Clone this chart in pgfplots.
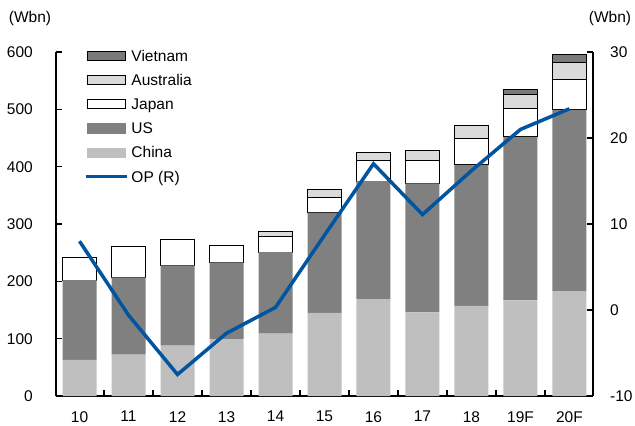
\documentclass[border=0pt]{standalone}
\usepackage{fontspec}
\setmainfont{Liberation Sans}
\usepackage{pgfplots}
\pgfplotsset{compat=1.18}
\definecolor{chinac}{RGB}{191,191,191}
\definecolor{usc}{RGB}{128,128,128}
\definecolor{ausc}{RGB}{218,218,218}
\definecolor{vnc}{RGB}{122,122,122}
\definecolor{opblue}{RGB}{0,84,160}
\pgfplotsset{
  base/.style={
    scale only axis, width=537pt, height=344pt,
    xmin=-0.48, xmax=10.48,
    axis line style={line width=1.8pt},
    tick style={black, line width=1.2pt},
    tick align=inside,
    major tick length=6pt, minor tick length=6pt,
    /pgf/number format/assume math mode=true,
  }
}
\begin{document}
\begin{tikzpicture}[font=\fontsize{15.5}{18}\selectfont]
\useasboundingbox (-56pt,-30pt) rectangle (579pt,396pt);
\begin{axis}[base,
  ymin=0, ymax=600, ytick={0,100,...,600},
  axis x line*=bottom, axis y line*=left,
  ybar stacked, bar width=34pt,
  xtick={0.5,1.5,...,9.5}, xticklabels={},
  extra x ticks={0,1,2,3,4,5,6,7,8,9,10},
  extra x tick labels={10,11,12,13,14,15,16,17,18,19F,20F},
  extra x tick style={major tick length=0pt},
  xticklabel style={anchor=north, inner sep=0pt, yshift=-15pt},
  yticklabel style={anchor=east, inner sep=0pt, xshift=-23pt},
]
\addplot[fill=chinac, draw=none] coordinates {(0,63) (1,72) (2,88) (3,99) (4,109) (5,145) (6,169) (7,146) (8,157) (9,167) (10,183)};
\addplot[fill=usc, draw=none] coordinates {(0,139) (1,135) (2,140) (3,134) (4,142) (5,175) (6,206) (7,225) (8,246) (9,285) (10,316)};
\addplot[fill=white, draw=black, line width=1pt] coordinates {(0,39) (1,53) (2,45) (3,30) (4,27) (5,27) (6,35) (7,40) (8,47) (9,50) (10,53)};
\addplot[fill=ausc, draw=black, line width=1pt] coordinates {(0,0) (1,0) (2,0) (3,0) (4,9) (5,14) (6,14) (7,17) (8,22) (9,24) (10,29)};
\addplot[fill=vnc, draw=black, line width=1pt] coordinates {(0,0) (1,0) (2,0) (3,0) (4,0) (5,0) (6,0) (7,0) (8,0) (9,8) (10,14)};
\end{axis}
\begin{axis}[base,
  ymin=-10, ymax=30, ytick={-10,0,10,20,30},
  axis y line*=right, axis x line=none,
  yticklabel style={anchor=west, inner sep=0pt, xshift=17pt},
  legend style={draw=none, fill=none, inner sep=0pt, outer sep=0pt,
    at={(0.0521,1.0048)}, anchor=north west,
    row sep=13.5pt,
    nodes={inner sep=0pt, text height=10.7pt, text depth=0pt},
    /tikz/every odd column/.append style={column sep=2.3pt}},
  legend cell align=left,
]
\addlegendimage{legend image code/.code={\draw[fill=vnc, draw=black, line width=1pt] (1.7pt,-4.7pt) rectangle (39.7pt,4.7pt);}}
\addlegendentry{Vietnam}
\addlegendimage{legend image code/.code={\draw[fill=ausc, draw=black, line width=1pt] (1.7pt,-4.7pt) rectangle (39.7pt,4.7pt);}}
\addlegendentry{Australia}
\addlegendimage{legend image code/.code={\draw[fill=white, draw=black, line width=1pt] (1.7pt,-4.7pt) rectangle (39.7pt,4.7pt);}}
\addlegendentry{Japan}
\addlegendimage{legend image code/.code={\fill[usc] (1.7pt,-4.7pt) rectangle (39.7pt,4.7pt);}}
\addlegendentry{US}
\addlegendimage{legend image code/.code={\fill[chinac] (1.7pt,-4.7pt) rectangle (39.7pt,4.7pt);}}
\addlegendentry{China}
\addlegendimage{legend image code/.code={\draw[opblue, line width=3.5pt] (0pt,0pt) -- (41.7pt,0pt);}}
\addlegendentry{OP (R)}
\addplot[opblue, line width=3.5pt, forget plot] coordinates {(0,8.0) (1,-0.6) (2,-7.5) (3,-2.7) (4,0.3) (5,8.7) (6,17.0) (7,11.1) (8,16.2) (9,21.0) (10,23.4)};
\end{axis}
\node[anchor=center, inner sep=0pt] at (-26pt,378pt) {(Wbn)};
\node[anchor=center, inner sep=0pt] at (554pt,378pt) {(Wbn)};
\end{tikzpicture}
\end{document}
